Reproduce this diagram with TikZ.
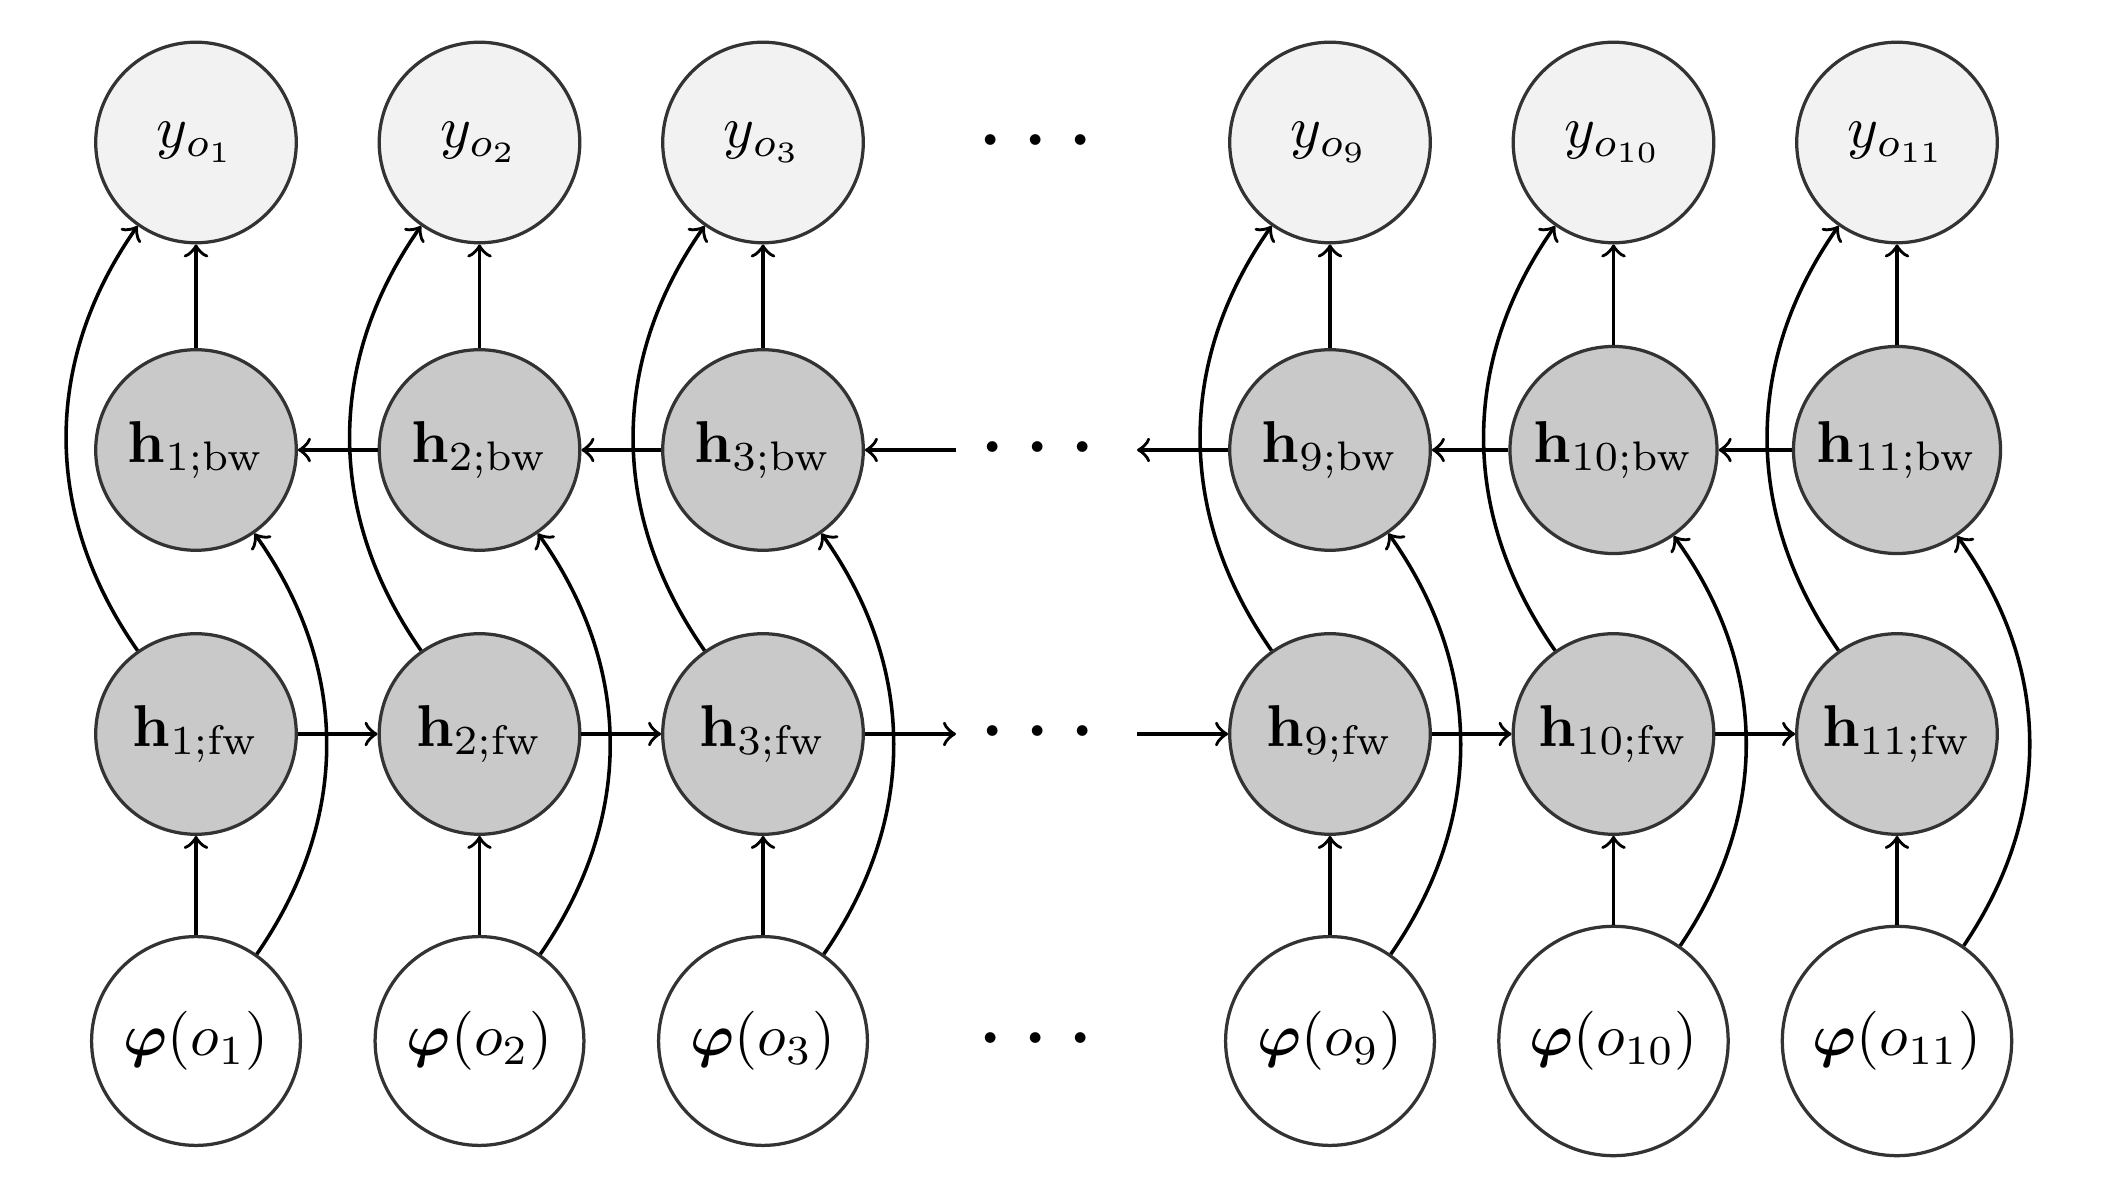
\documentclass[tikz,border=0pt]{standalone}
\usepackage{amsmath,bm}
\begin{document}
\begin{tikzpicture}[x=0.169492pt,y=0.169492pt,
  nd/.style={circle, draw=black!80, line width=0.55pt, minimum size=34pt, inner sep=0.3333em},
  ynode/.style={nd, fill=black!5},
  hnode/.style={nd, fill=black!21, inner sep=2.4pt},
  xnode/.style={nd, fill=white},
  dotsnode/.style={inner sep=0pt, minimum width=30.3pt, minimum height=8pt, font=\LARGE},
  arr/.style={->, line width=0.6pt, black},
]
\useasboundingbox (0,0) rectangle (2110,1196);
\foreach \i/\x in {1/196, 2/479.5, 3/763, 9/1330, 10/1613.5, 11/1897}{
  \node[ynode] (y\i) at (\x,1053.5) {$y_{o_{\i}}$};
  \node[hnode] (b\i) at (\x,746) {$\mathbf{h}_{\i;\mathrm{bw}}$};
  \node[hnode] (f\i) at (\x,462) {$\mathbf{h}_{\i;\mathrm{fw}}$};
  \node[xnode] (p\i) at (\x,155) {$\bm{\varphi}(o_{\i})$};
}
\node[dotsnode] (dy) at (1044,1053.5) {$\cdots$};
\node[dotsnode] (dbw) at (1046.5,746) {$\cdots$};
\node[dotsnode] (dfw) at (1046.5,462) {$\cdots$};
\node[dotsnode] (dp) at (1044,155) {$\cdots$};
\foreach \i in {1,2,3,9,10,11}{
  \draw[arr] (p\i) -- (f\i);
  \draw[arr] (b\i) -- (y\i);
  \draw[arr] (f\i) to[bend left=35] (y\i);
  \draw[arr] (p\i) to[bend right=35] (b\i);
}
\draw[arr] (f1) -- (f2);
\draw[arr] (f2) -- (f3);
\draw[arr] (f3) -- (dfw);
\draw[arr] (dfw) -- (f9);
\draw[arr] (f9) -- (f10);
\draw[arr] (f10) -- (f11);
\draw[arr] (b2) -- (b1);
\draw[arr] (b3) -- (b2);
\draw[arr] (dbw) -- (b3);
\draw[arr] (b9) -- (dbw);
\draw[arr] (b10) -- (b9);
\draw[arr] (b11) -- (b10);
\end{tikzpicture}
\end{document}
